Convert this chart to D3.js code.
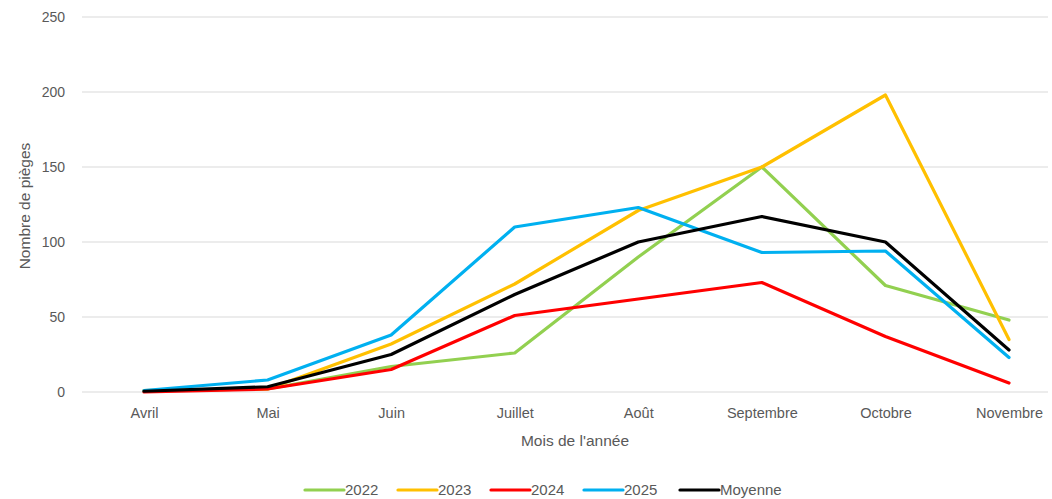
<!DOCTYPE html>
<html><head><meta charset="utf-8">
<script src="https://cdn.jsdelivr.net/npm/d3@7"></script>
<style>body{margin:0;background:#fff}svg{display:block}text{font-family:"Liberation Sans",Arial,sans-serif;fill:#595959}</style>
</head><body><svg id="c" width="1052" height="499"></svg>
<script>
const months = ["Avril","Mai","Juin","Juillet","Août","Septembre","Octobre","Novembre"];
const yTicks = [0,50,100,150,200,250];
const s2022 = [1,2,17,26,90,150,71,48];
const s2023 = [1,2,32,72,121,150,198,35];
const s2024 = [0,2,15,51,62,73,37,6];
const s2025 = [1,8,38,110,123,93,94,23];
const moyenne = [0.5,3.5,25,65,100,117,100,28];
const seriesNames = ["2022","2023","2024","2025","Moyenne"];
const seriesColors = ["#92d050","#ffc000","#ff0000","#00b0f0","#000000"];
const seriesData = [s2022,s2023,s2024,s2025,moyenne];

const FONT = "Liberation Sans, Arial, sans-serif";
const svg = d3.select("#c");
const x = d3.scalePoint().domain(months).range([144,1009]);
const y = d3.scaleLinear().domain([0,250]).range([392,17]);

// gridlines
svg.append("g").selectAll("line").data(yTicks).join("line")
  .attr("x1",82).attr("x2",1048).attr("y1",d=>y(d)).attr("y2",d=>y(d))
  .attr("stroke","#d9d9d9").attr("stroke-width",1);

// y axis labels
const ya = svg.append("g").attr("transform","translate(65,0)")
  .call(d3.axisLeft(y).tickValues(yTicks).tickSize(0).tickPadding(0));
ya.select(".domain").remove();
ya.selectAll("text").style("font-size","14px").style("fill","#595959").style("font-family",FONT);

// x axis labels
const xa = svg.append("g").attr("transform","translate(0,408)")
  .call(d3.axisBottom(x).tickSize(0).tickPadding(0));
xa.select(".domain").remove();
xa.selectAll("text").attr("dy","0.71em").style("font-size","14.5px").style("fill","#595959").style("font-family",FONT);

// axis titles
svg.append("text").attr("x",575).attr("y",446).attr("text-anchor","middle")
  .style("font-size","15.5px").text("Mois de l'année");
svg.append("text").attr("transform","translate(30,206) rotate(-90)").attr("text-anchor","middle")
  .style("font-size","15.5px").text("Nombre de pièges");

// lines
const line = d3.line().x((d,i)=>x(months[i])).y(d=>y(d));
svg.append("g").selectAll("path").data(seriesData).join("path")
  .attr("d",line).attr("fill","none")
  .attr("stroke",(d,i)=>seriesColors[i]).attr("stroke-width",3.2)
  .attr("stroke-linejoin","round").attr("stroke-linecap","round");

// legend
const legX = [305,398,491,584,680];
const lg = svg.append("g").selectAll("g").data(seriesNames).join("g")
  .attr("transform",(d,i)=>`translate(${legX[i]},490)`);
lg.append("line").attr("x1",0).attr("x2",39).attr("y1",0).attr("y2",0)
  .attr("stroke",(d,i)=>seriesColors[i]).attr("stroke-width",3.2).attr("stroke-linecap","round");
lg.append("text").attr("x",40).attr("dy","0.35em").style("font-size","15px").text(d=>d);
</script></body></html>
